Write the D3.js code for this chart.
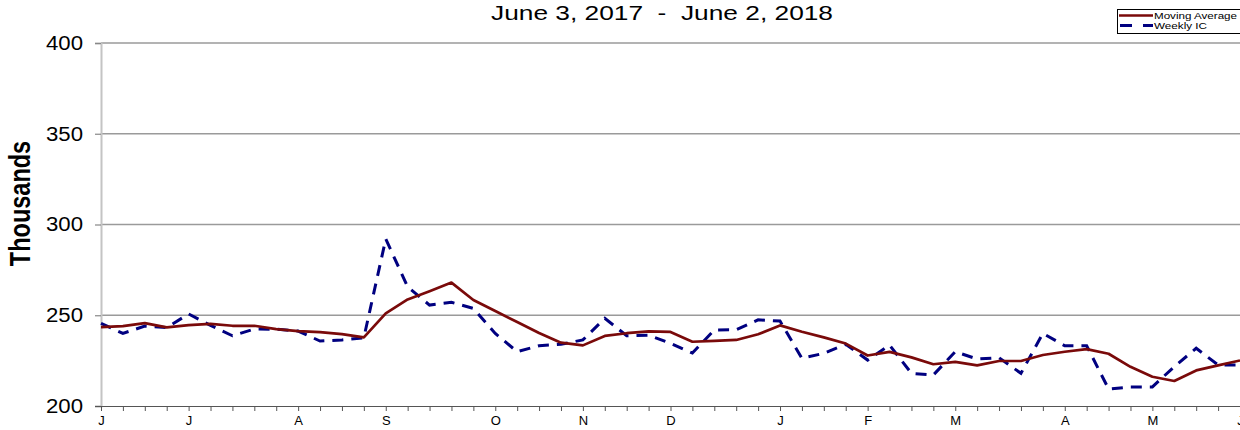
<!DOCTYPE html>
<html>
<head>
<meta charset="utf-8">
<script src="https://cdn.jsdelivr.net/npm/d3@7"></script>
<style>
  html, body { margin: 0; padding: 0; background: #fff; overflow: hidden; }
  svg { display: block; font-family: "Liberation Sans", Arial, sans-serif; }
</style>
</head>
<body>
<svg id="chart" width="1240" height="430"></svg>
<script>
// ---- data ----
const weeks = [
  "2017-06-03","2017-06-10","2017-06-17","2017-06-24",
  "2017-07-01","2017-07-08","2017-07-15","2017-07-22","2017-07-29",
  "2017-08-05","2017-08-12","2017-08-19","2017-08-26",
  "2017-09-02","2017-09-09","2017-09-16","2017-09-23","2017-09-30",
  "2017-10-07","2017-10-14","2017-10-21","2017-10-28",
  "2017-11-04","2017-11-11","2017-11-18","2017-11-25",
  "2017-12-02","2017-12-09","2017-12-16","2017-12-23","2017-12-30",
  "2018-01-06","2018-01-13","2018-01-20","2018-01-27",
  "2018-02-03","2018-02-10","2018-02-17","2018-02-24",
  "2018-03-03","2018-03-10","2018-03-17","2018-03-24","2018-03-31",
  "2018-04-07","2018-04-14","2018-04-21","2018-04-28",
  "2018-05-05","2018-05-12","2018-05-19","2018-05-26",
  "2018-06-02"
];
const movingAverage = [
  243.5, 244.0, 245.7, 243.3, 244.6, 245.2, 244.2, 244.2, 242.4,
  241.3, 240.7, 239.6, 237.8,
  251.0, 258.7, 263.2, 268.0, 258.4,
  252.3, 246.3, 240.2, 234.9,
  233.4, 238.6, 240.1, 241.1,
  240.8, 235.4, 235.9, 236.4, 239.5,
  244.4, 240.9, 237.8, 234.4,
  227.8, 229.8, 226.8, 223.0,
  224.3, 222.4, 224.8, 224.8, 228.1,
  229.9, 231.3, 228.8, 221.6,
  216.1, 213.8, 219.6, 222.4,
  225.1
];
const weeklyIC = [
  245.5, 240.0, 244.0, 243.2, 250.7, 244.4, 238.7, 242.4, 242.3,
  241.3, 235.8, 236.4, 237.6,
  292.0, 265.7, 255.6, 257.1, 253.8,
  240.0, 229.9, 233.2, 234.0,
  236.4, 248.3, 238.7, 239.0,
  234.5, 229.2, 241.9, 242.0, 247.5,
  246.8, 226.3, 229.0, 234.0,
  225.3, 233.6, 218.0, 217.1,
  229.9, 225.9, 226.6, 218.0, 240.0,
  233.2, 233.2, 209.4, 210.5,
  210.5, 221.7, 231.8, 222.6,
  222.6
];
const monthLetters = ["J","J","A","S","O","N","D","J","F","M","A","M","J"];
const yTicks = [200, 250, 300, 350, 400];
const seriesNames = ["Moving Average", "Weekly IC"];
const titleText = "June 3, 2017  -  June 2, 2018";
const yTitle = "Thousands";

// ---- layout ----
const svg = d3.select("#chart");
const plotLeft = 101, plotRight = 1240, plotTop = 43, plotBottom = 406;

const x = d3.scalePoint().domain(weeks).range([plotLeft, plotRight]);
const y = d3.scaleLinear().domain([200, 400]).range([plotBottom, plotTop]);

// first week of each month -> month letter
const firstOfMonth = new Map();
let mi = 0, lastMonth = null;
weeks.forEach(w => {
  const m = w.slice(0, 7);
  if (m !== lastMonth) { firstOfMonth.set(w, monthLetters[mi++]); lastMonth = m; }
});

// gridlines
svg.append("g")
  .selectAll("line").data(yTicks.filter(t => t > 200)).join("line")
  .attr("x1", plotLeft).attr("x2", plotRight)
  .attr("y1", d => y(d)).attr("y2", d => y(d))
  .attr("stroke", "#9a9a9a").attr("stroke-width", 1.5);

// y axis
const yAxis = svg.append("g").attr("transform", `translate(${plotLeft},0)`)
  .call(d3.axisLeft(y).tickValues(yTicks).tickSize(6).tickPadding(12));
yAxis.select(".domain").attr("stroke", "#c4c4c4").attr("stroke-width", 2);
yAxis.selectAll(".tick line").attr("stroke", "#888").attr("stroke-width", 1.2);
yAxis.selectAll("text").attr("font-size", 20).attr("fill", "#000")
  .attr("font-family", "Liberation Sans, Arial, sans-serif")
  .attr("textLength", 37).attr("lengthAdjust", "spacingAndGlyphs");

// x axis
const xAxis = svg.append("g").attr("transform", `translate(0,${plotBottom})`)
  .call(d3.axisBottom(x).tickSize(5).tickPadding(5)
    .tickFormat(d => firstOfMonth.get(d) || ""));
xAxis.select(".domain").attr("stroke", "#555").attr("stroke-width", 1.2)
  .attr("d", `M${plotLeft - 6},0.5H${plotRight}`);
xAxis.selectAll(".tick line").attr("stroke", "#555").attr("stroke-width", 1);
xAxis.selectAll("text").attr("font-size", 13).attr("fill", "#000")
  .attr("font-family", "Liberation Sans, Arial, sans-serif");

// lines
const line = d3.line().x((d, i) => x(weeks[i])).y(d => y(d));
svg.append("path").datum(weeklyIC)
  .attr("d", line).attr("fill", "none")
  .attr("stroke", "#000080").attr("stroke-width", 3)
  .attr("stroke-dasharray", "11,8");
svg.append("path").datum(movingAverage)
  .attr("d", line).attr("fill", "none")
  .attr("stroke", "#7a0a0a").attr("stroke-width", 2.7)
  .attr("stroke-linejoin", "round");

// title
svg.append("text").attr("x", 662).attr("y", 19.5)
  .attr("text-anchor", "middle").attr("font-size", 20).attr("fill", "#000")
  .style("white-space", "pre")
  .attr("textLength", 342).attr("lengthAdjust", "spacingAndGlyphs")
  .text(titleText);

// y title
svg.append("text").attr("transform", "translate(30,203.5) scale(1.25,1) rotate(-90)")
  .attr("text-anchor", "middle").attr("font-size", 23.5).attr("font-weight", "bold")
  .attr("fill", "#000").text(yTitle);

// legend
const lg = svg.append("g");
lg.append("rect").attr("x", 1117.5).attr("y", 9.5).attr("width", 140).attr("height", 24)
  .attr("fill", "#fff").attr("stroke", "#000").attr("stroke-width", 1);
const legendY = [15.5, 25.5];
const legendLen = [83, 53];
lg.append("line").attr("x1", 1119).attr("x2", 1153).attr("y1", legendY[0]).attr("y2", legendY[0])
  .attr("stroke", "#7a0a0a").attr("stroke-width", 2.6);
lg.append("line").attr("x1", 1120).attr("x2", 1153).attr("y1", legendY[1]).attr("y2", legendY[1])
  .attr("stroke", "#000080").attr("stroke-width", 3).attr("stroke-dasharray", "12,11");
seriesNames.forEach((n, i) => {
  lg.append("text").attr("x", 1154).attr("y", legendY[i] + 3.5)
    .attr("font-size", 9.5).attr("fill", "#000")
    .attr("textLength", legendLen[i]).attr("lengthAdjust", "spacingAndGlyphs")
    .text(n);
});
</script>
</body>
</html>
